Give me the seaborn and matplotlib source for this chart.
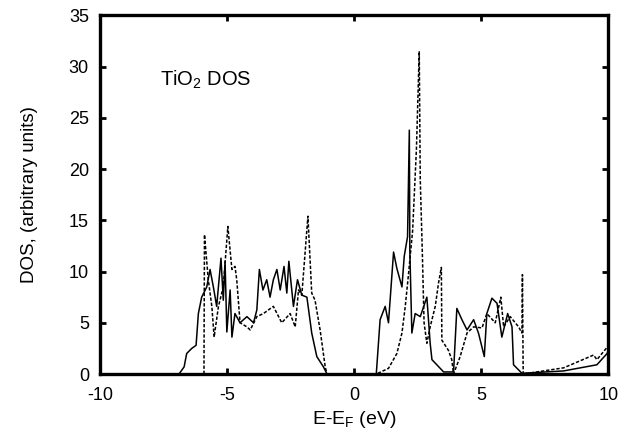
import pandas as pd
import numpy as np
import matplotlib
matplotlib.use("Agg")
import matplotlib.pyplot as plt
import seaborn as sns

# total DOS (solid)
solid_e = [-10, -6.89, -6.69, -6.59, -6.39, -6.22, -6.13, -6.0, -5.80, -5.67, -5.54, -5.41,
           -5.24, -5.15, -5.08, -5.01, -4.88, -4.81, -4.69, -4.49, -4.22, -3.96, -3.83, -3.73,
           -3.59, -3.44, -3.31, -3.18, -3.04, -2.91, -2.76, -2.65, -2.57, -2.39, -2.23, -2.06,
           -1.86, -1.67, -1.47, -1.21, -1.07, 0.87, 1.02, 1.22, 1.35, 1.55, 1.68, 1.88, 1.97,
           2.10, 2.17, 2.19, 2.27, 2.40, 2.60, 2.86, 2.99, 3.06, 3.52, 3.91, 4.04, 4.24, 4.44,
           4.70, 4.89, 5.12, 5.22, 5.42, 5.62, 5.81, 6.04, 6.21, 6.27, 6.60, 8.24, 9.55, 9.95, 10.0]
solid_dos = [0, 0, 0.7, 2.0, 2.5, 2.8, 5.9, 7.5, 8.5, 10.2, 8.5, 6.6,
             11.3, 7.2, 11.0, 4.1, 8.2, 3.6, 5.9, 5.0, 5.6, 5.0, 6.25, 10.2,
             8.2, 9.2, 7.5, 9.2, 10.2, 8.2, 10.5, 7.9, 11.0, 6.6, 9.2, 7.7,
             7.5, 4.0, 1.7, 0.7, 0, 0, 5.3, 6.6, 5.0, 11.9, 10.3, 8.5, 11.5,
             13.4, 23.8, 12.0, 4.0, 5.9, 5.6, 7.5, 3.0, 1.4, 0.2, 0.2, 6.4, 5.3, 4.3,
             5.3, 4.0, 1.7, 5.9, 7.4, 6.9, 3.6, 5.9, 4.6, 0.9, 0.07, 0.3, 0.9, 2.0, 2.3]

# second DOS curve (dashed)
dash_e = [-10, -5.91, -5.89, -5.74, -5.60, -5.51, -5.34, -5.15, -4.97, -4.81, -4.69, -4.62,
          -4.49, -4.22, -4.09, -3.83, -3.57, -3.18, -2.85, -2.52, -2.32, -2.19, -2.06, -1.82,
          -1.67, -1.54, -1.34, -1.14, -1.07, 0.87, 1.35, 1.68, 1.88, 2.01, 2.14, 2.30, 2.45,
          2.56, 2.60, 2.68, 2.75, 2.86, 2.99, 3.19, 3.32, 3.43, 3.45, 3.71, 3.84, 3.91, 4.17,
          4.44, 4.70, 5.03, 5.22, 5.55, 5.77, 5.88, 6.14, 6.47, 6.60, 6.62, 6.65, 8.24, 9.42,
          9.55, 9.95, 10.0]
dash_dos = [0, 0, 13.6, 9.2, 6.6, 3.6, 6.6, 8.5, 14.4, 10.2, 10.5, 9.2,
            5.0, 4.6, 4.3, 5.6, 5.9, 6.6, 5.0, 5.9, 4.6, 8.2, 7.7, 15.4,
            7.9, 7.2, 4.3, 0.7, 0, 0, 0.55, 2.0, 4.0, 6.6, 9.8, 14.0, 22.0,
            31.5, 19.0, 12.0, 5.0, 3.0, 4.6, 6.6, 8.9, 10.4, 3.3, 2.3, 1.4, 0, 1.7,
            4.0, 4.6, 4.5, 5.9, 5.0, 7.5, 4.6, 5.6, 4.6, 4.0, 9.7, 0, 0.6, 1.85,
            1.4, 2.6, 2.8]

x_ticks = [-10, -5, 0, 5, 10]
y_ticks = [0, 5, 10, 15, 20, 25, 30, 35]

df = pd.concat([
    pd.DataFrame({"E": solid_e, "DOS": solid_dos, "curve": "total"}),
    pd.DataFrame({"E": dash_e, "DOS": dash_dos, "curve": "other"}),
], ignore_index=True)

sns.set_style("ticks")
plt.rcParams["font.family"] = ["Liberation Sans", "DejaVu Sans"]
plt.rcParams["mathtext.default"] = "regular"
plt.rcParams["axes.unicode_minus"] = False
plt.rcParams["text.color"] = "black"
plt.rcParams["axes.labelcolor"] = "black"

fig = plt.figure(figsize=(6.37, 4.40), dpi=100)
ax = fig.add_axes([0.157, 0.15, 0.798, 0.815])

sns.lineplot(data=df, x="E", y="DOS", hue="curve", style="curve",
             palette={"total": "black", "other": "black"},
             dashes={"total": "", "other": (2.2, 1.2)},
             sort=False, estimator=None, linewidth=1.1, legend=False, ax=ax)

ax.set_xlim(-10, 10)
ax.set_ylim(0, 35)
ax.set_xticks(x_ticks)
ax.set_yticks(y_ticks)
ax.tick_params(direction="in", length=4, width=2, top=True, right=True,
               labelsize=13, color="black", labelcolor="black")
ax.tick_params(axis="x", pad=9)
ax.tick_params(axis="y", pad=8)
for s in ax.spines.values():
    s.set_linewidth(2.4)
    s.set_color("black")

ax.set_xlabel("E-E$_F$ (eV)", fontsize=14, labelpad=4)
ax.set_ylabel("DOS, (arbitrary units)", fontsize=13.5, labelpad=22)
ax.text(-7.64, 28.7, "TiO$_2$ DOS", fontsize=14.5, va="center", ha="left")

fig.savefig("out.png", dpi=100)
